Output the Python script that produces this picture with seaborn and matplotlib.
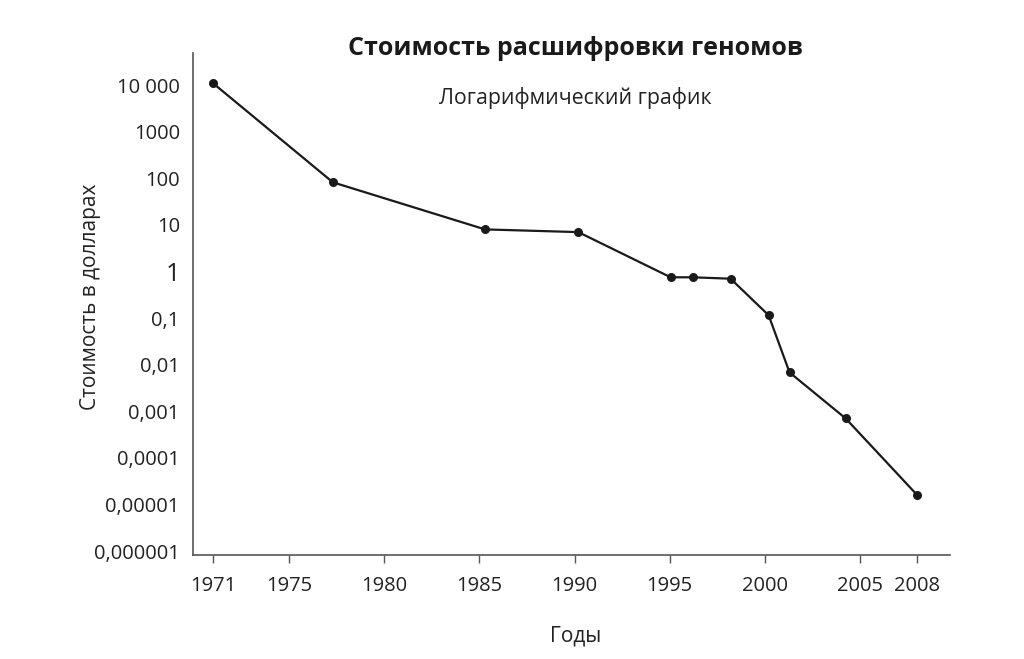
import numpy as np
import pandas as pd
import seaborn as sns
import matplotlib.pyplot as plt

# данные
years = [1971, 1977.3, 1985.3, 1990.2, 1995.05, 1996.2, 1998.2, 2000.2, 2001.3, 2004.25, 2008]
cost = [11000, 82, 8, 7, 0.75, 0.75, 0.7, 0.115, 0.0068, 0.0007, 0.000016]

x_ticks = [1971, 1975, 1980, 1985, 1990, 1995, 2000, 2005, 2008]
y_ticks = [1e4, 1e3, 1e2, 1e1, 1, 1e-1, 1e-2, 1e-3, 1e-4, 1e-5, 1e-6]
y_labels = ["10 000", "1000", "100", "10", "1", "0,1", "0,01", "0,001",
            "0,0001", "0,00001", "0,000001"]

df = pd.DataFrame({"Год": years, "Стоимость": cost})

sns.set_style("white")
plt.rcParams["font.family"] = ["Open Sans", "DejaVu Sans"]
ink = "#222222"

fig = plt.figure(figsize=(10.24, 6.59), dpi=100)
ax = fig.add_axes([0.1885, 0.1578, 0.7392, 0.7618])

sns.lineplot(data=df, x="Год", y="Стоимость", ax=ax, color="#1a1a1a",
             linewidth=1.6, marker="o", markersize=6.5, markeredgewidth=0)

ax.set_yscale("log")
ax.set_xlim(1969.95, 2009.73)
ax.set_ylim(10 ** -6.086, 10 ** 4.69)

ax.set_xticks(x_ticks)
ax.set_xticklabels([str(t) for t in x_ticks], fontsize=14.5, color=ink)
ax.set_yticks(y_ticks)
ax.set_yticklabels(y_labels, fontsize=14.5, color=ink)
ax.yaxis.set_minor_locator(plt.NullLocator())
for lab in ax.get_yticklabels():
    if lab.get_text() == "1":
        lab.set_fontsize(18)

ax.tick_params(axis="x", bottom=True, length=6, width=1, color="#555555",
               pad=9, direction="out")
ax.tick_params(axis="y", left=False, pad=6)

for s in ["top", "right"]:
    ax.spines[s].set_visible(False)
for s in ["left", "bottom"]:
    ax.spines[s].set_color("#555555")
    ax.spines[s].set_linewidth(1.2)

ax.set_xlabel("Годы", fontsize=15, color=ink)
ax.set_ylabel("Стоимость в долларах", fontsize=15, color=ink)
ax.xaxis.set_label_coords(0.505, -0.141)
ax.yaxis.set_label_coords(-0.122, 0.515)

fig.text(0.5615, 0.926, "Стоимость расшифровки геномов", fontsize=18,
         fontweight="bold", color="#1a1a1a", ha="center", va="center")
fig.text(0.5615, 0.852, "Логарифмический график", fontsize=15.3,
         color=ink, ha="center", va="center")

fig.savefig("out.png", dpi=100)
